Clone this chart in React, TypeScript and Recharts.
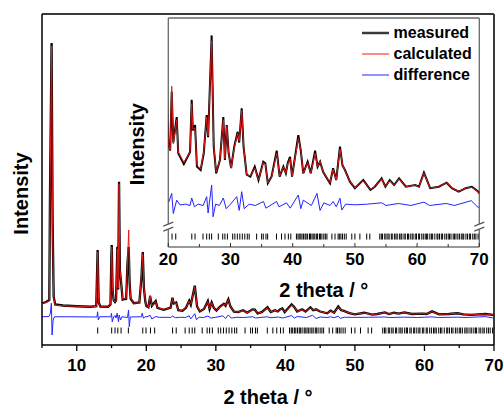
import React from 'react';
import {
  ComposedChart,
  Line,
  Scatter,
  XAxis,
  YAxis,
  ReferenceLine,
  ReferenceDot,
  Legend,
  Label,
} from 'recharts';

// 2 theta grid shared by the measured and calculated patterns
const twoTheta = [
  5.0, 5.6, 6.05, 6.15, 6.38, 6.53, 6.68, 6.9, 8.0, 10.0,
  12.0, 12.8, 13.0, 13.15, 13.4, 14.5, 14.85, 14.97, 15.03, 15.15,
  15.3, 15.5, 15.65, 15.84, 15.95, 16.08, 16.2, 16.35, 16.6, 17.1,
  17.3, 17.47, 17.6, 17.75, 18.2, 19.0, 19.3, 19.49, 19.65, 19.85,
  20.0, 20.3, 20.55, 20.8, 21.35, 21.6, 22.5, 23.5, 23.76, 23.95,
  24.3, 24.6, 25.2, 25.7, 26.17, 26.4, 26.97, 27.3, 27.7, 28.3,
  28.85, 29.1, 29.4, 29.7, 30.1, 30.6, 31.15, 31.4, 31.8, 32.1,
  32.6, 33.2, 33.9, 34.5, 35.27, 35.6, 36.0, 36.6, 37.43, 37.9,
  38.5, 38.9, 39.2, 39.57, 39.9, 40.9, 41.3, 41.7, 42.4, 42.9,
  43.6, 44.0, 44.4, 44.9, 46.0, 46.5, 47.0, 47.6, 48.0, 48.4,
  49.2, 50.0, 51.35, 52.5, 53.2, 54.3, 54.9, 55.6, 56.3, 57.1,
  58.2, 59.7, 60.3, 61.1, 62.1, 63.5, 64.75, 65.6, 66.7, 67.8,
  68.8, 69.8, 70.0,
];

const measured = [
  167, 172, 180, 608, 1208, 488, 193, 162, 158, 155,
  153, 155, 380, 170, 154, 153, 162, 350, 400, 220,
  180, 172, 178, 393, 222, 653, 300, 258, 182, 185,
  330, 392, 250, 185, 167, 170, 270, 372, 230, 175,
  156, 151, 195, 157, 176, 149, 141, 150, 189, 166,
  170, 139, 136.5, 149, 177.6, 161, 237, 154, 134, 144,
  176, 144, 170, 149, 138, 154, 165, 157, 182.6, 154,
  133, 131.5, 139, 129, 142.7, 141.5, 126.6, 131.5, 151, 131.5,
  139, 134, 141.7, 146.4, 131.5, 162.6, 151, 134, 142.7, 134,
  151, 139, 142.7, 135, 126.6, 137.8, 129, 154, 140, 136.5,
  127.8, 122.9, 129, 121.6, 124, 130.2, 124, 129, 125.3, 130.2,
  124, 125.3, 124, 134.5, 122.9, 124, 127, 122.9, 120.4, 122.9,
  124, 120.4, 119,
];

const calculated = [
  165, 170, 178, 600, 1196, 480, 190, 160, 157, 155,
  153, 154, 372, 168, 153, 153, 160, 340, 392, 226,
  180, 172, 178, 385, 228, 645, 305, 262, 183, 186,
  335, 460, 255, 186, 167, 170, 275, 365, 232, 175,
  156, 151, 199, 156, 174, 150, 142, 150, 186, 167,
  168, 140, 137, 150, 176, 162, 233, 155, 135, 144,
  174, 145, 169, 149, 138, 153, 164, 158, 181, 155,
  133, 132, 138, 129, 142, 141, 127, 131, 149, 132,
  139, 134, 141, 145, 132, 160, 152, 134, 142, 134,
  149, 139, 143, 135, 127, 137, 129, 152, 141, 136,
  128, 123, 128.5, 122, 124, 130, 124, 128.5, 125.5, 130,
  124, 125.3, 124, 134, 123, 124, 127, 123, 120.5, 123,
  123.5, 120.5, 119,
];

// difference curve (offset below the pattern)
const diffTheta = [
  5.0, 6.0, 6.2, 6.35, 6.45, 6.6, 6.8, 9.0, 12.9, 13.0,
  13.1, 13.3, 14.9, 15.0, 15.1, 15.3, 15.5, 15.65, 15.8, 16.0,
  16.1, 16.3, 16.5, 17.3, 17.45, 17.55, 17.7, 19.3, 19.4, 19.6,
  19.8, 20.1, 20.55, 20.8, 21.35, 21.9, 22.8, 23.5, 23.76, 24.2,
  24.8, 25.6, 26.17, 26.4, 26.97, 27.2, 27.6, 28.2, 28.85, 29.3,
  30.0, 31.0, 31.4, 31.8, 32.2, 33.0, 34.0, 35.3, 35.7, 37.4,
  37.8, 39.0, 39.6, 40.9, 41.3, 41.7, 43.0, 43.9, 44.4, 45.0,
  46.0, 46.5, 47.0, 47.6, 47.9, 48.5, 50.0, 52.0, 54.3, 55.0,
  57.0, 59.0, 61.1, 62.0, 64.7, 66.0, 68.7, 69.8, 70.0,
];

const difference = [
  113, 114, 127, 167, 40, 100, 113, 113, 112, 133,
  100, 113, 113, 127, 93, 112, 118, 108, 127, 93,
  120, 100, 113, 110, 140, 73, 112, 113, 127, 107,
  113, 112.8, 119, 104, 114, 110.4, 111, 110, 115.6, 109,
  111, 110, 116.6, 104.4, 125.3, 101.6, 111, 110, 115.6, 107.6,
  111, 116.6, 106.3, 120.3, 107.6, 111, 110, 113, 108, 113,
  109, 112, 108, 117.8, 107.6, 114, 110, 119, 106.3, 112,
  110, 113, 109, 115.4, 106.6, 111, 110.5, 111, 112, 110,
  111.5, 110, 112.5, 110, 111.5, 110, 113.6, 108.6, 109,
];

// Bragg reflection positions
const reflections = [
  13.01, 15.02, 15.5, 15.9, 16.37, 17.42, 19.49, 19.96, 20.6, 21.2,
  23.78, 24.3, 25.58, 26.17, 26.6, 26.97, 28.04, 28.75, 29.1, 29.5,
  30.35, 30.7, 31.1, 31.5, 31.9, 32.3, 32.7, 33.0, 34.2, 35.0,
  35.27, 35.7, 35.97, 37.4, 38.2, 38.76, 39.3, 39.7, 40.6, 40.85,
  41.05, 41.3, 41.5, 41.75, 42.0, 42.15, 42.4, 42.7, 42.85, 43.1,
  43.3, 43.55, 43.8, 44.0, 44.3, 44.45, 44.7, 45.0, 45.25, 45.5,
  46.3, 46.8, 47.3, 47.5, 47.75, 48.0, 48.3, 48.6, 49.5, 50.0,
  50.8, 51.9, 52.4, 54.0, 54.25, 54.45, 54.8, 55.0, 55.3, 55.5,
  55.85, 56.0, 56.35, 56.6, 56.8, 57.15, 57.4, 57.55, 57.9, 58.1,
  58.45, 58.6, 58.9, 59.2, 59.35, 59.7, 59.9, 60.25, 60.4, 60.75,
  61.0, 61.3, 61.5, 61.7, 62.05, 62.3, 62.5, 62.85, 63.2, 63.35,
  63.6, 63.9, 64.1, 64.45, 64.7, 65.0, 65.2, 65.45, 65.8, 66.0,
  66.25, 66.55, 66.8, 67.1, 67.35, 67.5, 67.85, 68.1, 68.4, 68.6,
  68.95, 69.2, 69.45, 69.8,
];

const seriesNames = ['measured', 'calculated', 'difference'];
const mainTicks = [5, 10, 15, 20, 25, 30, 35, 40, 45, 50, 55, 60, 65, 70];
const insetTicks = [20, 25, 30, 35, 40, 45, 50, 55, 60, 65, 70];

const W = 503;
const H = 407;
const FONT = '"Liberation Sans", Arial, Helvetica, sans-serif';
const MAIN_Y = [0, 1324];
const INSET_Y = [79, 250];
const MAIN_REFL_Y = 58;
const INSET_REFL_Y = 86.8;
const BREAK_Y = 94.2;

const pts = (xs: number[], ys: number[]) => xs.map((x, i) => ({ x, y: ys[i] }));
const measuredPts = pts(twoTheta, measured);
const calculatedPts = pts(twoTheta, calculated);
const diffPts = pts(diffTheta, difference);
const mainRefl = reflections.map((x) => ({ x, y: MAIN_REFL_Y }));
const insetRefl = reflections.filter((x) => x >= 20).map((x) => ({ x, y: INSET_REFL_Y }));

const title = (x: number, y: number, text: string, vertical = false) => () => (
  <text
    transform={`translate(${x},${y})${vertical ? ' rotate(-90)' : ''}`}
    textAnchor="middle"
    fontFamily={FONT}
    fontSize={20}
    fontWeight="bold"
    fill="#000"
  >
    {text}
  </text>
);

const MainTick = (props: any) => {
  const { x, y, payload } = props;
  const major = payload.value % 10 === 0;
  return (
    <g>
      <line x1={x} x2={x} y1={y} y2={y + (major ? 6 : 3)} stroke="#000" strokeWidth={1.3} />
      {major && (
        <text x={x} y={y + 25.5} textAnchor="middle" fontFamily={FONT} fontSize={17} fontWeight="bold" fill="#000">
          {payload.value}
        </text>
      )}
    </g>
  );
};

const InsetTick = (props: any) => {
  const { x, y, payload } = props;
  const major = payload.value % 10 === 0;
  return (
    <g>
      <line x1={x} x2={x} y1={y} y2={y - (major ? 4 : 3)} stroke="#333" strokeWidth={1} />
      {major && (
        <text x={x} y={y + 18} textAnchor="middle" fontFamily={FONT} fontSize={17} fontWeight="bold" fill="#000">
          {payload.value}
        </text>
      )}
    </g>
  );
};

const reflTick = (p: any) => (
  <line x1={p.cx} x2={p.cx} y1={p.cy - 3} y2={p.cy + 3} stroke="#000" strokeWidth={1} />
);

const breakMark = (p: any) => (
  <g stroke="#555" strokeWidth={1.2}>
    <line x1={p.cx - 5} y1={p.cy - 0.5} x2={p.cx + 5} y2={p.cy - 4.5} />
    <line x1={p.cx - 5} y1={p.cy + 4.5} x2={p.cx + 5} y2={p.cy + 0.5} />
  </g>
);

const LEGEND_STYLE: Record<string, { color: string; width: number }> = {
  measured: { color: '#3a3a3a', width: 2.5 },
  calculated: { color: '#ff8a8a', width: 2 },
  difference: { color: '#6d6dff', width: 1.5 },
};

const InsetLegend = (props: any) => {
  const names = (props.payload || []).map((p: any) => p.value);
  return (
    <div style={{ fontFamily: FONT, fontWeight: 'bold', fontSize: 16, color: '#000' }}>
      {seriesNames
        .filter((n) => names.includes(n))
        .map((n) => (
          <div key={n} style={{ display: 'flex', alignItems: 'center', height: 21 }}>
            <svg width={27} height={6} style={{ marginRight: 5 }}>
              <line x1={0} x2={27} y1={3} y2={3} stroke={LEGEND_STYLE[n].color} strokeWidth={LEGEND_STYLE[n].width} />
            </svg>
            <span>{n}</span>
          </div>
        ))}
    </div>
  );
};

function MainChart() {
  return (
    <ComposedChart width={W} height={H} margin={{ top: 14, right: 9, bottom: 0, left: 0 }}>
      <XAxis
        dataKey="x"
        type="number"
        domain={[5, 70]}
        ticks={mainTicks}
        interval={0}
        tickSize={0}
        tickMargin={0}
        height={62}
        tickLine={false}
        axisLine={{ stroke: '#000', strokeWidth: 1.5 }}
        tick={<MainTick />}
        label={<Label content={title(268, 404, '2 theta / °')} />}
      />
      <YAxis
        dataKey="y"
        type="number"
        domain={MAIN_Y}
        width={42}
        tick={false}
        tickLine={false}
        axisLine={{ stroke: '#000', strokeWidth: 1.5 }}
        label={<Label content={title(27.5, 193.5, 'Intensity', true)} />}
      />
      <ReferenceLine y={MAIN_Y[1]} stroke="#3a3a3a" strokeWidth={2} />
      <ReferenceLine x={70} stroke="#3a3a3a" strokeWidth={2} />
      <Line data={measuredPts} dataKey="y" name="measured" stroke="#000" strokeWidth={2.3} dot={false} isAnimationActive={false} />
      <Line data={calculatedPts} dataKey="y" name="calculated" stroke="#e41a1a" strokeWidth={1} dot={false} isAnimationActive={false} />
      <Line data={diffPts} dataKey="y" name="difference" stroke="#2323ff" strokeWidth={1} dot={false} isAnimationActive={false} />
      <Scatter data={mainRefl} dataKey="y" shape={reflTick} legendType="none" isAnimationActive={false} />
    </ComposedChart>
  );
}

function InsetChart() {
  return (
    <ComposedChart width={W} height={H} margin={{ top: 18, right: 23.7, bottom: 100, left: 138.3 }}>
      <XAxis
        dataKey="x"
        type="number"
        domain={[20, 70]}
        allowDataOverflow
        ticks={insetTicks}
        interval={0}
        tickSize={0}
        tickMargin={0}
        height={60}
        tickLine={false}
        axisLine={{ stroke: '#333', strokeWidth: 1.2 }}
        tick={<InsetTick />}
        label={<Label content={title(323.8, 296.5, '2 theta / °')} />}
      />
      <YAxis
        dataKey="y"
        type="number"
        domain={INSET_Y}
        allowDataOverflow
        width={30}
        tick={false}
        tickLine={false}
        axisLine={false}
        label={<Label content={title(144, 144.2, 'Intensity', true)} />}
      />
      <ReferenceLine y={INSET_Y[1]} stroke="#6a6a6a" strokeWidth={1.3} />
      <ReferenceLine segment={[{ x: 20, y: INSET_Y[0] }, { x: 20, y: BREAK_Y - 1.9 }]} stroke="#6a6a6a" strokeWidth={1.3} />
      <ReferenceLine segment={[{ x: 20, y: BREAK_Y + 1.9 }, { x: 20, y: INSET_Y[1] }]} stroke="#6a6a6a" strokeWidth={1.3} />
      <ReferenceLine segment={[{ x: 70, y: INSET_Y[0] }, { x: 70, y: BREAK_Y - 1.9 }]} stroke="#6a6a6a" strokeWidth={1.3} />
      <ReferenceLine segment={[{ x: 70, y: BREAK_Y + 1.9 }, { x: 70, y: INSET_Y[1] }]} stroke="#6a6a6a" strokeWidth={1.3} />
      <ReferenceDot x={20} y={BREAK_Y} shape={breakMark} />
      <ReferenceDot x={70} y={BREAK_Y} shape={breakMark} />
      <Line data={measuredPts} dataKey="y" name="measured" stroke="#000" strokeWidth={2} dot={false} isAnimationActive={false} />
      <Line data={calculatedPts} dataKey="y" name="calculated" stroke="#e41a1a" strokeWidth={1} dot={false} isAnimationActive={false} />
      <Line data={diffPts} dataKey="y" name="difference" stroke="#2323ff" strokeWidth={1} dot={false} isAnimationActive={false} />
      <Scatter data={insetRefl} dataKey="y" shape={reflTick} legendType="none" isAnimationActive={false} />
      <Legend
        layout="vertical"
        align="center"
        verticalAlign="middle"
        content={<InsetLegend />}
        wrapperStyle={{ left: 361.5, top: 22, width: 135, height: 63 }}
      />
    </ComposedChart>
  );
}

export default function App() {
  return (
    <div style={{ position: 'absolute', left: 0, top: 0, width: W, height: H, background: '#fff', overflow: 'hidden' }}>
      <div style={{ position: 'absolute', left: 0, top: 0 }}>
        <MainChart />
      </div>
      <div style={{ position: 'absolute', left: 168, top: 18, width: 311, height: 229, background: '#fff' }} />
      <div style={{ position: 'absolute', left: 0, top: 0 }}>
        <InsetChart />
      </div>
    </div>
  );
}
